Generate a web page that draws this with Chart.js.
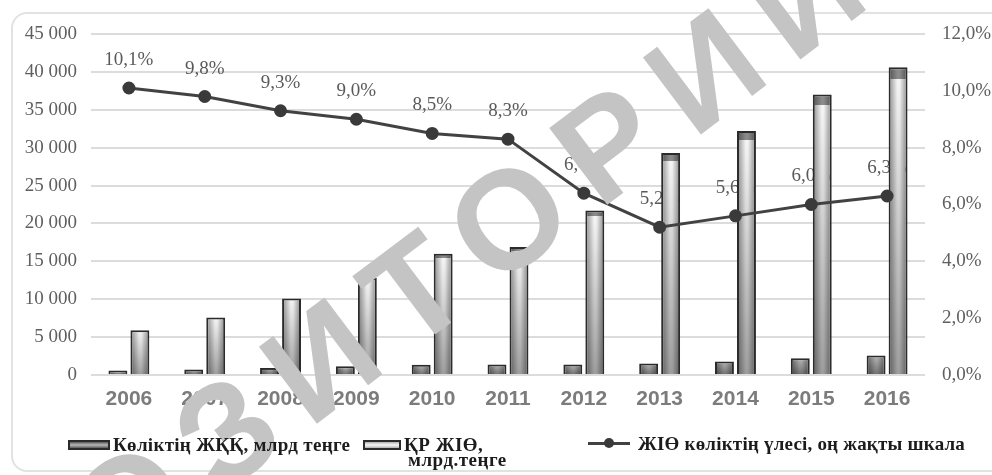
<!DOCTYPE html>
<html>
<head>
<meta charset="utf-8">
<script src="https://cdn.jsdelivr.net/npm/chart.js@4.4.1/dist/chart.umd.min.js"></script>
<style>
  html, body { margin: 0; padding: 0; background: #ffffff; }
  #wrap { position: relative; width: 992px; height: 475px; overflow: hidden; background: #fff; }
  #frame { position: absolute; left: 11px; top: 12px; width: 1000px; height: 460px; border: 2px solid #e2e2e2; border-radius: 16px; box-sizing: border-box; }
  canvas { position: absolute; left: 0; top: 0; }
  #legend { position: absolute; left: 0; top: 0; z-index: 3; }
  .lg { position: absolute; font-family: 'Liberation Serif', serif; font-weight: bold; font-size: 19px; color: #1c1c1c; white-space: nowrap; line-height: 19px; }
  .box { position: absolute; border: 2px solid #2b2b2b; box-sizing: border-box; }
  #wm { position: absolute; z-index: 2; left: 331px; top: 353px; transform: translate(-50%, -50%) rotate(-37deg); font-family: 'Liberation Sans', Arial, sans-serif; font-weight: bold; font-size: 140px; letter-spacing: 24px; color: #c4c4c4; white-space: nowrap; line-height: 1; pointer-events: none; }
</style>
</head>
<body>
<div id="wrap">
  <div id="frame"></div>
  <canvas id="c" width="992" height="475"></canvas>
  <div id="wm">РЕПОЗИТОРИЙ</div>
  <div id="legend"></div>
</div>
<script>
const years = ['2006','2007','2008','2009','2010','2011','2012','2013','2014','2015','2016'];
const transportGVA = [600, 740, 940, 1150, 1360, 1400, 1390, 1520, 1790, 2220, 2560];
const gdp = [5900, 7600, 10100, 12800, 16000, 16900, 21700, 29300, 32200, 37000, 40600];
const transportShare = [10.1, 9.8, 9.3, 9.0, 8.5, 8.3, 6.4, 5.2, 5.6, 6.0, 6.3];
const seriesNames = ['Көліктің ЖҚҚ, млрд теңге', 'ҚР ЖІӨ, млрд.теңге', 'ЖІӨ көліктің үлесі, оң жақты шкала'];

function fmtThousands(v) { return String(v).replace(/\B(?=(\d{3})+(?!\d))/g, ' '); }
function fmtPct(v) { return Number(v).toFixed(1).replace('.', ',') + '%'; }

function barGradient(top, bottom, cap) {
  return function(context) {
    const chart = context.chart;
    if (!chart.chartArea || context.parsed == null) return bottom;
    const ys = chart.scales.y;
    const yTop = ys.getPixelForValue(context.parsed.y);
    const yBase = ys.getPixelForValue(0);
    if (!isFinite(yTop) || !isFinite(yBase) || yBase - yTop < 1) return bottom;
    const g = chart.ctx.createLinearGradient(0, yTop, 0, yBase);
    const h = yBase - yTop;
    const capPx = cap ? Math.max(0, h * 0.04 - 1) : 0;
    if (capPx > 3) {
      const f = capPx / h;
      g.addColorStop(0, '#8a8a8a');
      g.addColorStop(f, '#8a8a8a');
      g.addColorStop(Math.min(1, f + 0.001), top);
    } else {
      g.addColorStop(0, top);
    }
    g.addColorStop(1, bottom);
    return g;
  };
}

const shadePlugin = {
  id: 'shade',
  afterDatasetDraw(chart, args) {
    const ds = chart.data.datasets[args.index];
    if (ds.type !== 'bar') return;
    const c = chart.ctx;
    c.save();
    args.meta.data.forEach(el => {
      const p = el.getProps(['x', 'y', 'base', 'width'], true);
      const l = p.x - p.width / 2 + 2, r = p.x + p.width / 2 - 2;
      const t = Math.min(p.y, p.base) + 2, b = Math.max(p.y, p.base);
      if (r <= l || b <= t) return;
      const g = c.createLinearGradient(l, 0, r, 0);
      g.addColorStop(0, 'rgba(0,0,0,0.32)');
      g.addColorStop(0.45, 'rgba(0,0,0,0)');
      g.addColorStop(0.6, 'rgba(0,0,0,0)');
      g.addColorStop(1, 'rgba(0,0,0,0.32)');
      c.fillStyle = g;
      c.fillRect(l, t, r - l, b - t);
    });
    c.restore();
  }
};

const labelPlugin = {
  id: 'pointLabels',
  beforeDatasetsDraw(chart) {
    const idx = chart.data.datasets.findIndex(d => d.type === 'line');
    const meta = chart.getDatasetMeta(idx);
    const c = chart.ctx;
    c.save();
    c.font = '19px "Liberation Serif", serif';
    c.fillStyle = '#5a5a5a';
    c.textAlign = 'center';
    c.textBaseline = 'middle';
    meta.data.forEach((pt, i) => {
      c.fillText(fmtPct(chart.data.datasets[idx].data[i]), pt.x, pt.y - 28);
    });
    c.restore();
  }
};

const chart = new Chart(document.getElementById('c'), {
  data: {
    labels: years,
    datasets: [
      {
        type: 'bar', label: seriesNames[0], data: transportGVA, yAxisID: 'y', order: 1,
        backgroundColor: barGradient('#b4b4b4', '#6e6e6e', false),
        borderColor: '#2b2b2b', borderWidth: 2,
        categoryPercentage: 0.58, barPercentage: 0.86
      },
      {
        type: 'bar', label: seriesNames[1], data: gdp, yAxisID: 'y', order: 2,
        backgroundColor: barGradient('#f4f4f4', '#9c9c9c', true),
        borderColor: '#2b2b2b', borderWidth: 2,
        categoryPercentage: 0.58, barPercentage: 0.86
      },
      {
        type: 'line', label: seriesNames[2], data: transportShare, yAxisID: 'y1', order: 0,
        borderColor: '#424242', backgroundColor: '#424242', borderWidth: 3,
        pointRadius: 5, pointBackgroundColor: '#3a3a3a', pointBorderColor: '#3a3a3a',
        tension: 0
      }
    ]
  },
  options: {
    responsive: false,
    animation: false,
    layout: { padding: { left: 0, right: 0, top: 34, bottom: 0 } },
    plugins: { legend: { display: false }, tooltip: { enabled: false } },
    scales: {
      x: {
        grid: { display: false, drawTicks: false },
        border: { display: false },
        ticks: { color: '#7c7c7c', font: { family: '"Liberation Sans", Arial, sans-serif', size: 21, weight: 'bold' }, padding: 12, maxRotation: 0, autoSkip: false },
        afterFit(s) { s.height = 100; }
      },
      y: {
        position: 'left', min: 0, max: 45000,
        ticks: { stepSize: 5000, color: '#5f5f5f', font: { family: '"Liberation Serif", serif', size: 19 }, padding: 14, callback: v => fmtThousands(v) },
        grid: { color: '#dcdcdc', lineWidth: 2, drawTicks: false },
        border: { display: false },
        afterFit(s) { s.width = 91; }
      },
      y1: {
        position: 'right', min: 0, max: 12,
        ticks: { stepSize: 2, color: '#5f5f5f', font: { family: '"Liberation Serif", serif', size: 19 }, padding: 17, callback: v => fmtPct(v) },
        grid: { display: false, drawTicks: false },
        border: { display: false },
        afterFit(s) { s.width = 67; }
      }
    }
  },
  plugins: [labelPlugin, shadePlugin]
});

// HTML legend built from the series names
(function buildLegend() {
  const lg = document.getElementById('legend');
  const mk = (html) => { const d = document.createElement('div'); d.innerHTML = html; return d.firstChild; };
  lg.appendChild(mk('<div class="box" style="left:68px;top:440px;width:42px;height:10px;background:linear-gradient(#5a5a5a,#b8b8b8 50%,#5a5a5a);"></div>'));
  const t1 = mk('<div class="lg" style="left:113px;top:435px;letter-spacing:0.3px;"></div>'); t1.textContent = seriesNames[0]; lg.appendChild(t1);
  lg.appendChild(mk('<div class="box" style="left:363px;top:440px;width:38px;height:10px;background:linear-gradient(#b0b0b0,#f8f8f8 50%,#b0b0b0);"></div>'));
  const parts = seriesNames[1].split(' ');
  const t2a = mk('<div class="lg" style="left:404px;top:435px;letter-spacing:0.5px;"></div>'); t2a.textContent = parts[0] + ' ' + parts[1].split(',')[0] + ','; lg.appendChild(t2a);
  const t2b = mk('<div class="lg" style="left:408px;top:450px;letter-spacing:0.5px;"></div>'); t2b.textContent = parts[2]; lg.appendChild(t2b);
  lg.appendChild(mk('<div style="position:absolute;left:588px;top:442px;width:42px;height:3px;background:#424242;"></div>'));
  lg.appendChild(mk('<div style="position:absolute;left:604px;top:438px;width:10px;height:10px;border-radius:50%;background:#3a3a3a;"></div>'));
  const t3 = mk('<div class="lg" style="left:638px;top:434px;letter-spacing:0.2px;"></div>'); t3.textContent = seriesNames[2]; lg.appendChild(t3);
})();
</script>
</body>
</html>
